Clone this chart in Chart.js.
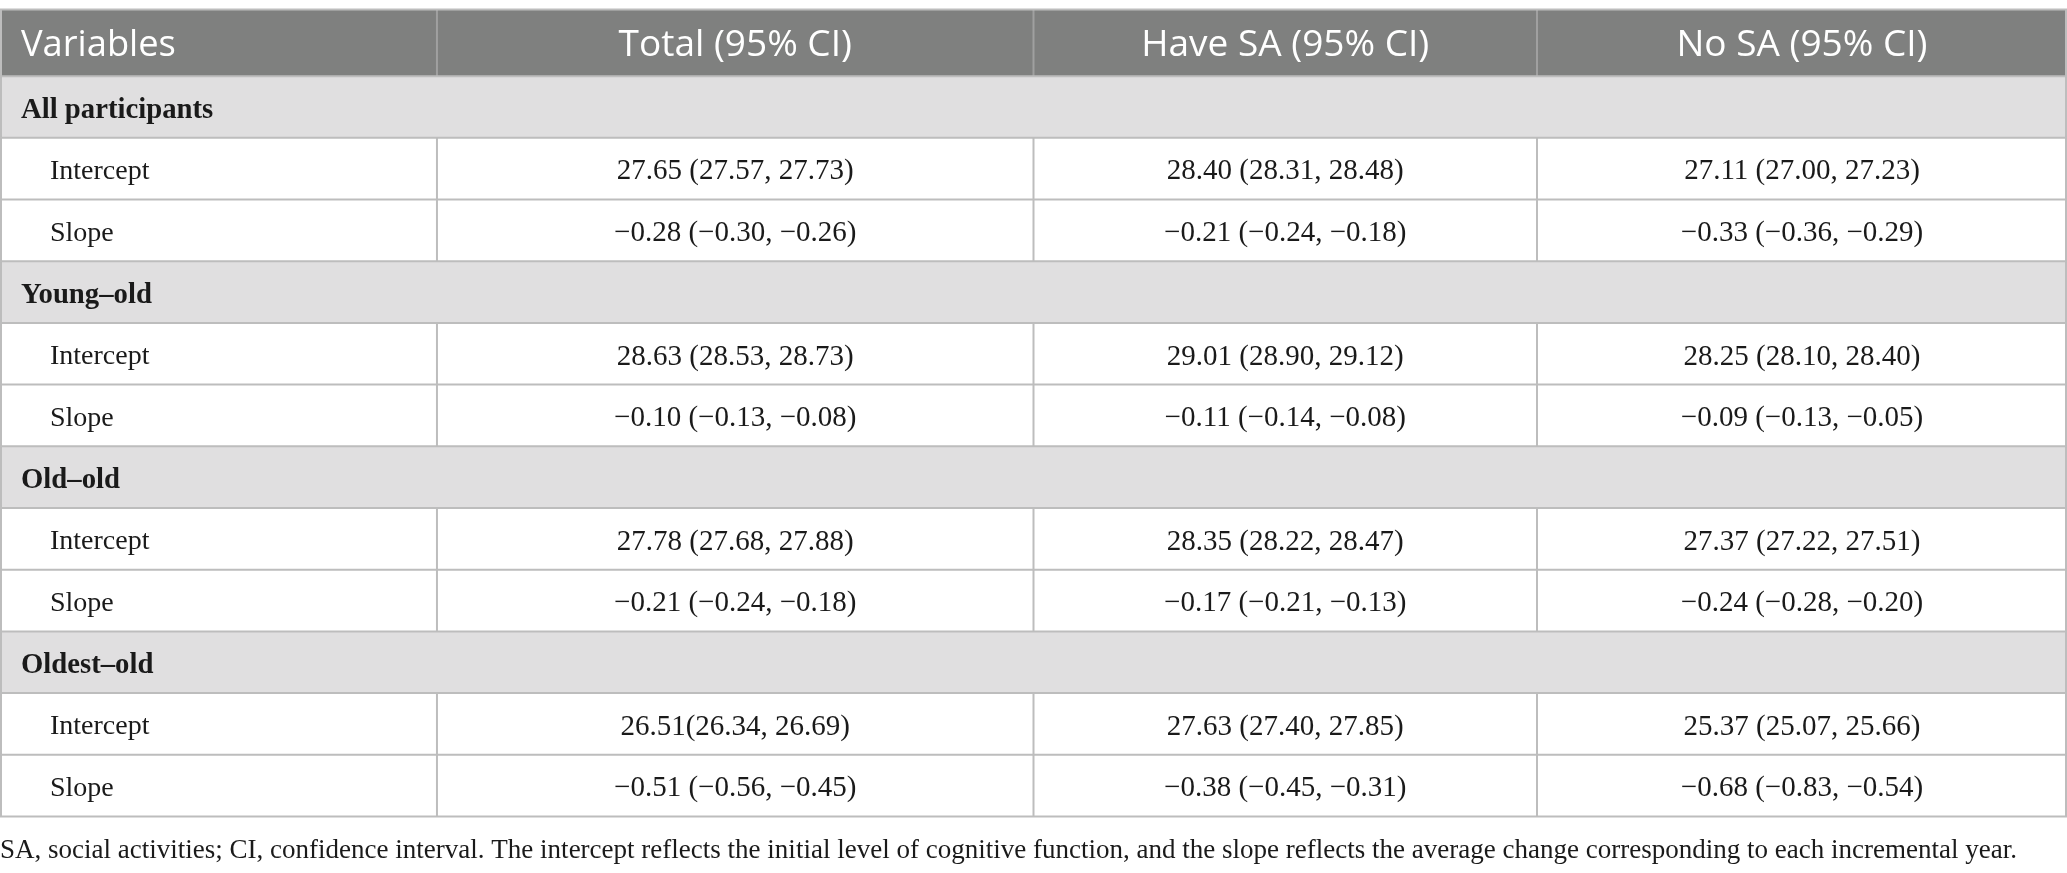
<!DOCTYPE html>
<html>
<head>
<meta charset="utf-8">
<script src="https://cdn.jsdelivr.net/npm/chart.js@4.4.0/dist/chart.umd.min.js"></script>
<style>
html,body{margin:0;padding:0;background:#ffffff;}
#wrap{width:2067px;height:873px;position:relative;}
</style>
</head>
<body>
<div id="wrap"><canvas id="c" width="2067" height="873"></canvas></div>
<script>
// ---- data ----
const headers = ['Variables', 'Total (95% CI)', 'Have SA (95% CI)', 'No SA (95% CI)'];
const groups = ['All participants', 'Young\u2013old', 'Old\u2013old', 'Oldest\u2013old'];
const measures = ['Intercept', 'Slope'];
const totalCI = ['27.65 (27.57, 27.73)', '\u22120.28 (\u22120.30, \u22120.26)',
                 '28.63 (28.53, 28.73)', '\u22120.10 (\u22120.13, \u22120.08)',
                 '27.78 (27.68, 27.88)', '\u22120.21 (\u22120.24, \u22120.18)',
                 '26.51(26.34, 26.69)',  '\u22120.51 (\u22120.56, \u22120.45)'];
const haveSA = ['28.40 (28.31, 28.48)', '\u22120.21 (\u22120.24, \u22120.18)',
                '29.01 (28.90, 29.12)', '\u22120.11 (\u22120.14, \u22120.08)',
                '28.35 (28.22, 28.47)', '\u22120.17 (\u22120.21, \u22120.13)',
                '27.63 (27.40, 27.85)', '\u22120.38 (\u22120.45, \u22120.31)'];
const noSA = ['27.11 (27.00, 27.23)', '\u22120.33 (\u22120.36, \u22120.29)',
              '28.25 (28.10, 28.40)', '\u22120.09 (\u22120.13, \u22120.05)',
              '27.37 (27.22, 27.51)', '\u22120.24 (\u22120.28, \u22120.20)',
              '25.37 (25.07, 25.66)', '\u22120.68 (\u22120.83, \u22120.54)'];
const footnote = 'SA, social activities; CI, confidence interval. The intercept reflects the initial level of cognitive function, and the slope reflects the average change corresponding to each incremental year.';

// ---- layout / style (not data) ----
const COL_EDGES = [0, 0.2114, 0.5, 0.7436, 1];
const HEADER_H = 1.08;
const C_HEAD = '#7f807f', C_GROUP = '#e0dfe0', C_LINE = '#bdbdbd', C_HLINE = '#a0a0a0', C_TEXT = '#1a1a1a';
const SERIF = '"Liberation Serif", "Times New Roman", serif';
const SANS = '"Open Sans", "Noto Sans", sans-serif';

// build rows from data
const rows = [];
groups.forEach((g, gi) => {
  rows.push({type: 'group', label: g});
  measures.forEach((m, mi) => {
    const k = gi * measures.length + mi;
    rows.push({type: 'item', label: m, cells: [totalCI[k], haveSA[k], noSA[k]]});
  });
});

function drawText(ctx, t, x, y, font, color, align, sx) {
  ctx.save();
  ctx.font = font;
  ctx.fillStyle = color;
  ctx.textAlign = align;
  ctx.textBaseline = 'alphabetic';
  ctx.translate(x, y);
  ctx.scale(sx, 1);
  ctx.fillText(t, 0, 0);
  ctx.restore();
}

const tablePlugin = {
  id: 'tablePlugin',
  beforeDatasetsDraw(chart) {
    const ctx = chart.ctx, xs = chart.scales.x, ys = chart.scales.y;
    const X = v => xs.getPixelForValue(v), Y = v => ys.getPixelForValue(v);
    const left = X(0), right = X(1);
    ctx.save();
    ctx.fillStyle = C_HEAD;
    ctx.fillRect(left, Y(-HEADER_H), right - left, Y(0) - Y(-HEADER_H));
    rows.forEach((r, i) => {
      if (r.type === 'group') {
        ctx.fillStyle = C_GROUP;
        ctx.fillRect(left, Y(i), right - left, Y(i + 1) - Y(i));
      }
    });
    ctx.lineWidth = 2;
    ctx.strokeStyle = C_HLINE;
    for (let c = 1; c < COL_EDGES.length - 1; c++) {
      ctx.beginPath();
      ctx.moveTo(X(COL_EDGES[c]), Y(-HEADER_H));
      ctx.lineTo(X(COL_EDGES[c]), Y(0));
      ctx.stroke();
    }
    ctx.strokeStyle = C_LINE;
    rows.forEach((r, i) => {
      if (r.type !== 'item') return;
      for (let c = 1; c < COL_EDGES.length - 1; c++) {
        ctx.beginPath();
        ctx.moveTo(X(COL_EDGES[c]), Y(i));
        ctx.lineTo(X(COL_EDGES[c]), Y(i + 1));
        ctx.stroke();
      }
    });
    ctx.beginPath();
    ctx.moveTo(left + 1, Y(-HEADER_H)); ctx.lineTo(left + 1, Y(rows.length));
    ctx.moveTo(right - 1, Y(-HEADER_H)); ctx.lineTo(right - 1, Y(rows.length));
    ctx.stroke();
    const hs = [-HEADER_H];
    for (let i = 0; i <= rows.length; i++) hs.push(i);
    hs.forEach(v => {
      ctx.beginPath();
      ctx.moveTo(left, Y(v)); ctx.lineTo(right, Y(v));
      ctx.stroke();
    });
    ctx.restore();
  },
  afterDatasetsDraw(chart) {
    const ctx = chart.ctx, xs = chart.scales.x, ys = chart.scales.y;
    const X = v => xs.getPixelForValue(v), Y = v => ys.getPixelForValue(v);
    const hy = (Y(-HEADER_H) + Y(0)) / 2;
    const hSize = 37;
    const hBase = hy + hSize * 0.714 / 2;
    headers.forEach((h, c) => {
      if (c === 0) drawText(ctx, h, X(0) + 21, hBase, `400 ${hSize}px ${SANS}`, '#ffffff', 'left', 0.98);
      else drawText(ctx, h, (X(COL_EDGES[c]) + X(COL_EDGES[c + 1])) / 2, hBase, `400 ${hSize}px ${SANS}`, '#ffffff', 'center', 1.0);
    });
    rows.forEach((r, i) => {
      const cy = (Y(i) + Y(i + 1)) / 2;
      if (r.type === 'group') {
        const s = 29;
        drawText(ctx, r.label, X(0) + 21, cy + s * 0.662 / 2 + 1, `700 ${s}px ${SERIF}`, C_TEXT, 'left', 0.99);
      } else {
        const s = 28;
        const base = cy + s * 0.662 / 2 + 1;
        drawText(ctx, r.label, X(0) + 50, base, `400 ${s}px ${SERIF}`, C_TEXT, 'left', 1.0);
        r.cells.forEach((t, c) => {
          const cx = (X(COL_EDGES[c + 1]) + X(COL_EDGES[c + 2])) / 2;
          drawText(ctx, t, cx, base + 0.5, `400 29px ${SERIF}`, C_TEXT, 'center', 1.0);
        });
      }
    });
    const fs = 27;
    ctx.save();
    ctx.font = `400 ${fs}px ${SERIF}`;
    const w = ctx.measureText(footnote).width;
    ctx.restore();
    const fsx = 2017 / w;
    drawText(ctx, footnote, X(0), Y(rows.length) + 41, `400 ${fs}px ${SERIF}`, C_TEXT, 'left', fsx);
  }
};

new Chart(document.getElementById('c'), {
  type: 'scatter',
  data: { datasets: [{ data: [], pointRadius: 0 }] },
  options: {
    responsive: false,
    animation: false,
    devicePixelRatio: 1,
    layout: { padding: { top: 9.5, bottom: 56.5, left: 0, right: 0 } },
    plugins: { legend: { display: false }, tooltip: { enabled: false }, title: { display: false } },
    scales: {
      x: { type: 'linear', min: 0, max: 1, display: false },
      y: { type: 'linear', min: -HEADER_H, max: 12, reverse: true, display: false }
    }
  },
  plugins: [tablePlugin]
});
</script>
</body>
</html>
